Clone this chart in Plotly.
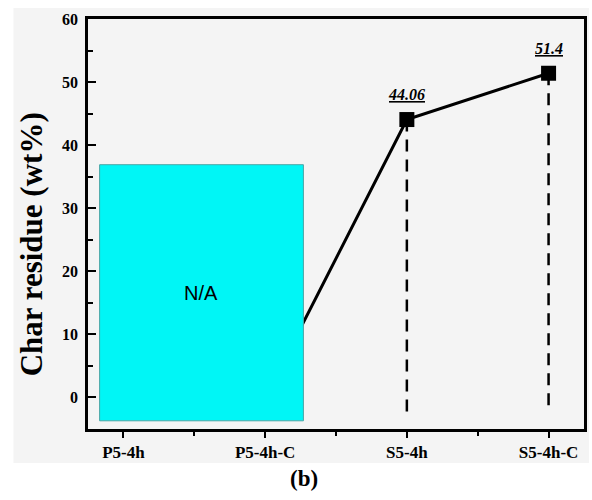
import plotly.graph_objects as go

categories = ["P5-4h", "P5-4h-C", "S5-4h", "S5-4h-C"]
char_residue = [0, 0, 44.06, 51.4]
value_labels = [None, None, "44.06", "51.4"]
y_ticks = [0, 10, 20, 30, 40, 50, 60]

W, H = 592, 500
L, R, T, B = 88, 5, 19, 71
pw, ph = W - L - R, H - T - B

SERIF = "Liberation Serif"
xs = list(range(len(categories)))

fig = go.Figure()

# dashed drop lines for the measured samples
DROP_BASE = -2.3
for i, (x, v, lab) in enumerate(zip(xs, char_residue, value_labels)):
    if lab is None:
        continue
    fig.add_trace(go.Scatter(x=[x, x], y=[v, DROP_BASE], mode="lines",
                             line=dict(color="black", width=2.5, dash="12px,8px"),
                             hoverinfo="skip", showlegend=False))

fig.add_trace(go.Scatter(x=xs, y=char_residue, mode="lines+markers",
                         line=dict(color="black", width=3),
                         marker=dict(symbol="square", size=15, color="black"),
                         showlegend=False))

for x, v, lab in zip(xs, char_residue, value_labels):
    if lab is None:
        continue
    fig.add_annotation(x=x, y=v, text=f"<b><i><u>{lab}</u></i></b>", showarrow=False,
                       yshift=25, font=dict(family=SERIF, size=16, color="black"))

# N/A overlay box
fig.add_shape(type="rect", xref="x", yref="y", x0=-0.168, x1=1.27, y0=-3.7, y1=36.9,
              fillcolor="#00f6f6", line=dict(color="#4aa5a5", width=1), layer="above")
fig.add_annotation(x=0.55, y=16.6, text="N/A", showarrow=False,
                   font=dict(family="Liberation Sans", size=20, color="black"))

# background panel
fig.add_shape(type="rect", xref="paper", yref="paper",
              x0=(13 - L) / pw, x1=(W - L) / pw, y0=1 - (463 - T) / ph, y1=1 + (T - 8) / ph,
              fillcolor="#f4f4f4", line=dict(width=0), layer="below")

fig.add_annotation(xref="paper", yref="paper", x=(31 - L) / pw, y=(H - B - 244) / ph,
                   xanchor="center", yanchor="middle",
                   text="<b>Char residue (wt%)</b>", textangle=-90, showarrow=False,
                   font=dict(family=SERIF, size=31, color="black"))
fig.add_annotation(xref="paper", yref="paper", x=(305 - L) / pw, y=-(478 - (H - B)) / ph,
                   xanchor="center", yanchor="middle",
                   text="<b>(b)</b>", showarrow=False,
                   font=dict(family=SERIF, size=23, color="black"))

fig.update_layout(
    width=W, height=H, margin=dict(l=L, r=R, t=T, b=B),
    paper_bgcolor="white", plot_bgcolor="#f4f4f4",
    xaxis=dict(range=[-0.25, 3.25], tickmode="array", tickvals=xs,
               ticktext=[f"<b>{c}</b>" for c in categories],
               ticks="outside", ticklen=6, tickwidth=2, tickcolor="black",
               minor=dict(tick0=0.5, dtick=1, ticks="outside", ticklen=4, tickwidth=2, tickcolor="black"),
               showline=True, linecolor="black", linewidth=2.5, mirror=True,
               showgrid=False, zeroline=False,
               tickfont=dict(family=SERIF, size=17, color="black")),
    yaxis=dict(range=[-5, 60], tickmode="array", tickvals=y_ticks,
               ticktext=[f"<b>{t}</b>" for t in y_ticks],
               ticks="inside", ticklen=8, tickwidth=2, tickcolor="black",
               minor=dict(dtick=5, ticks="inside", ticklen=5, tickwidth=2, tickcolor="black"),
               showline=True, linecolor="black", linewidth=2.5, mirror=True,
               showgrid=False, zeroline=False, ticklabelstandoff=4,
               tickfont=dict(family=SERIF, size=16, color="black")),
)

fig.write_html("out.html")
